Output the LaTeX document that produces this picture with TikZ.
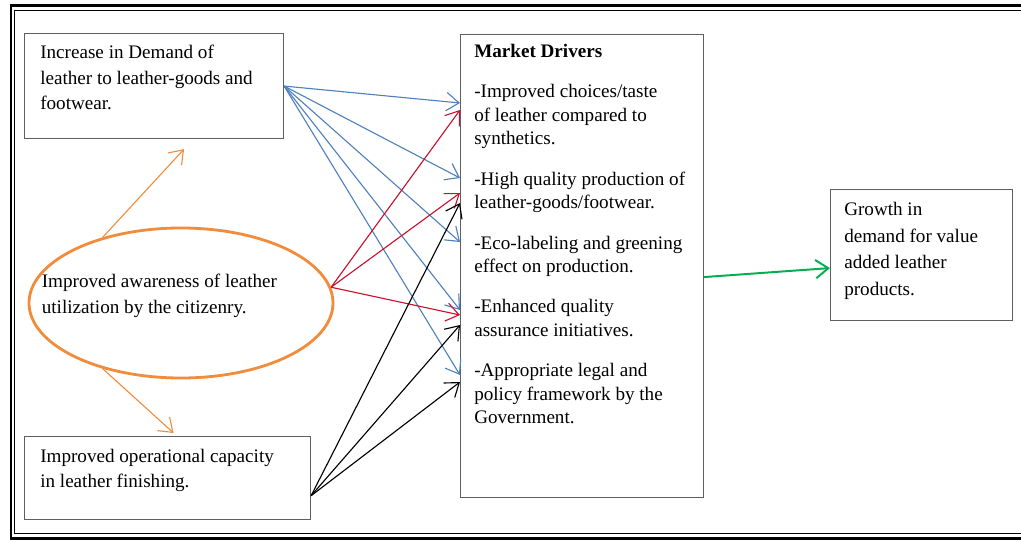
\documentclass[tikz,border=0pt]{standalone}
\usepackage{fontspec}
\setmainfont{Liberation Serif}
\usetikzlibrary{positioning,shapes.geometric,arrows.meta}

\definecolor{linkblue}{RGB}{79,129,189}
\definecolor{linkred}{RGB}{200,18,48}
\definecolor{linkorange}{RGB}{240,140,60}
\definecolor{linkgreen}{RGB}{0,176,80}
\definecolor{boxgray}{RGB}{95,95,95}

\tikzset{
  box/.style={draw=boxgray, line width=0.8pt, anchor=north west, inner sep=0pt},
  txt/.style={inner sep=0pt, align=left, font=\fontsize{13.6}{18}\selectfont},
  link/.style={line width=0.8pt, -{Straight Barb[length=9pt,width=13pt]}},
}

\begin{document}
\begin{tikzpicture}[x=0.25mm, y=-0.25mm]
    \useasboundingbox (0,0) rectangle (1021,540);
    % double frame, open on the right
    \draw[line width=1.8pt] (1030,5.5) -- (11,5.5) -- (11,538.5) -- (1030,538.5);
    \draw[line width=0.7pt] (1030,10) -- (14.5,10) -- (14.5,533) -- (1030,533);

    % boxes
    \node[box, minimum width=64.75mm, minimum height=26.25mm] (demand) at (24,33) {};
    \node[box, minimum width=71.5mm, minimum height=20.75mm] (capacity) at (24,436) {};
    \node[ellipse, draw=linkorange, line width=2pt, inner sep=0pt,
          minimum width=76mm, minimum height=37.5mm] (aware) at (181,303) {};
    \node[box, minimum width=60.75mm, minimum height=115.75mm] (drivers) at (460,34) {};
    \node[box, minimum width=45.5mm, minimum height=32.75mm] (growth) at (830,189) {};

    % texts
    \node[txt, below right=3mm and 4mm of demand.north west] (demandtxt)
        {Increase in Demand of\\leather to leather-goods and\\footwear.};
    \node[txt, anchor=north west] (awaretxt) at ([shift={(14,-29)}]aware.west)
        {Improved awareness of leather\\utilization by the citizenry.};
    \node[txt, below right=3.25mm and 4mm of capacity.north west] (capacitytxt)
        {Improved operational capacity\\in leather finishing.};
    \node[txt, font=\fontsize{13.6}{16.7}\selectfont,
          below right=2.5mm and 3.5mm of drivers.north west] (driverstxt)
        {\textbf{Market Drivers}\\[12pt]
         -Improved choices/taste\\of leather compared to\\synthetics.\\[12pt]
         -High quality production of\\leather-goods/footwear.\\[12pt]
         -Eco-labeling and greening\\effect on production.\\[12pt]
         -Enhanced quality\\assurance initiatives.\\[12pt]
         -Appropriate legal and\\policy framework by the\\Government.};
    \node[txt, font=\fontsize{13.6}{19}\selectfont,
          below right=3.25mm and 3.5mm of growth.north west] (growthtxt)
        {Growth in\\demand for value\\added leather\\products.};

    % awareness spreads to both side factors
    \draw[link, linkorange] (aware.140) -- ([shift={(30,10)}]demand.south);
    \draw[link, linkorange] (aware.220) -- ([shift={(6,-3)}]capacity.north);

    % factors feeding the market drivers
    \foreach \dy in {69,144,208,276,341}
        \draw[link, linkblue] (demand.east) -- ([shift={(0,\dy)}]drivers.north west);
    \foreach \dy in {76,159,281}
        \draw[link, linkred] (aware.6) -- ([shift={(0,\dy)}]drivers.north west);
    \foreach \dy in {169,291,348}
        \draw[link] (capacity.-7) -- ([shift={(0,\dy)}]drivers.north west);

    \draw[link, linkgreen, line width=1.4pt]
        ([shift={(0,11)}]drivers.east) -- ([shift={(0,13)}]growth.west);
\end{tikzpicture}
\end{document}
